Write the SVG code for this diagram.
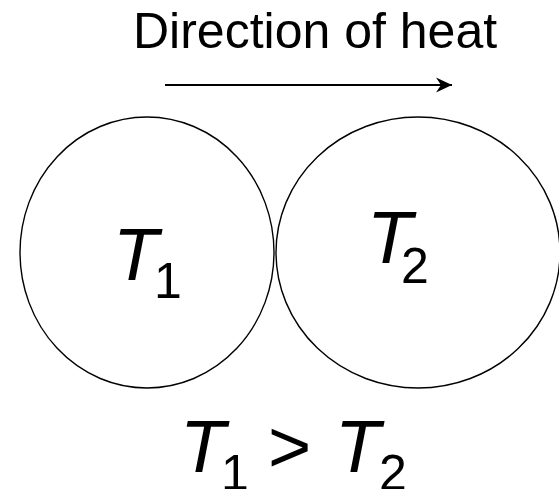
<svg xmlns="http://www.w3.org/2000/svg" width="559" height="489" viewBox="0 0 559 489">
<style>
.c{fill:none;stroke:#000;stroke-width:1.4}
.t{font-family:"Liberation Sans",Arial,sans-serif;fill:#000}
.big{font-size:74px;font-style:italic}
.sub{font-size:50px}
.op{font-size:74px}
</style>
<defs>
<marker id="ah" viewBox="0 0 16 16" refX="16" refY="8" markerWidth="16" markerHeight="16" markerUnits="userSpaceOnUse" orient="auto">
<path d="M0,0.5 L16,8 L0,15.5 L5,8 Z" fill="#000"/>
</marker>
</defs>
<rect width="559" height="489" fill="#fff"/>
<text class="t" x="133" y="48" font-size="50">Direction of heat</text>
<g id="connectors">
<line x1="165" y1="85" x2="452" y2="85" stroke="#000" stroke-width="2.2" marker-end="url(#ah)"/>
</g>
<g id="node-t1">
<ellipse class="c" cx="147" cy="252.5" rx="127" ry="135.5"/>
<text class="t big" x="113" y="280">T</text>
<text class="t sub" x="154" y="298">1</text>
</g>
<g id="node-t2">
<ellipse class="c" cx="418" cy="252.5" rx="142" ry="135.5"/>
<text class="t big" x="367" y="263">T</text>
<text class="t sub" x="401" y="283">2</text>
</g>
<g id="relation">
<text class="t big" x="180" y="472">T</text>
<text class="t sub" x="221" y="490">1</text>
<text class="t op" x="268" y="472">&gt;</text>
<text class="t big" x="335" y="472">T</text>
<text class="t sub" x="379" y="490">2</text>
</g>
</svg>
